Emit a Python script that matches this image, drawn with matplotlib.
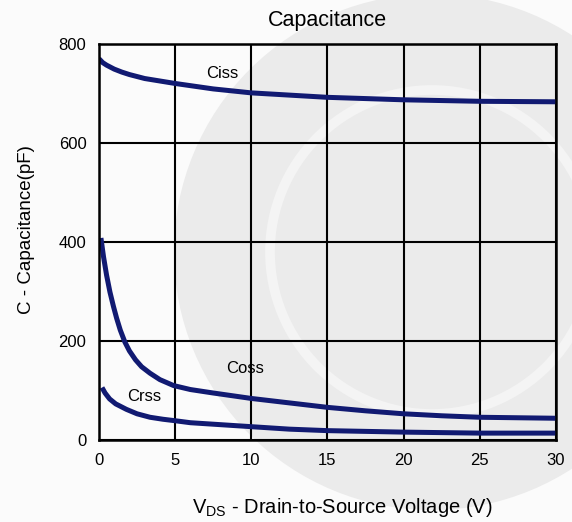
import matplotlib.pyplot as plt
from matplotlib.patches import Circle

# ── Data ──────────────────────────────────────────────────────────────────────
ciss_v = [0, 0.25, 0.5, 1, 1.5, 2, 3, 4, 5, 7.5, 10, 15, 20, 25, 30]
ciss_c = [770, 762, 757, 749, 743, 738, 730, 725, 720, 709, 701, 692, 687, 684, 683]

coss_v = [0.13, 0.3, 0.5, 0.72, 0.95, 1.16, 1.4, 1.7, 2.0, 2.4, 2.8, 3.35, 4.0,
          4.9, 6, 7.5, 10, 12.5, 15, 17.5, 20, 22.5, 25, 27.5, 30]
coss_c = [408, 370, 333, 299, 270, 246, 222, 198, 180, 162, 148, 135, 122,
          110, 102, 95, 84, 75, 66, 59, 53, 49, 46, 45, 44]

crss_v = [0.2, 0.4, 0.7, 1.1, 1.8, 2.5, 3.35, 4.2, 5, 6, 7.5, 10, 12.5, 15, 20, 25, 30]
crss_c = [106, 95, 83, 73, 62, 53, 46, 42, 39, 35, 32, 27, 22, 19, 16, 14, 14]

x_ticks = [0, 5, 10, 15, 20, 25, 30]
y_ticks = [0, 200, 400, 600, 800]

plt.rcParams["font.family"] = ["Liberation Sans", "DejaVu Sans"]
LINE = "#111a72"

fig = plt.figure(figsize=(5.72, 5.22), dpi=100, facecolor="#fbfbfb")

# faint round watermark behind the chart (pixel coordinates)
bg = fig.add_axes([0, 0, 1, 1], zorder=0)
bg.set_xlim(0, 572)
bg.set_ylim(522, 0)
bg.axis("off")
bg.add_patch(Circle((432, 252), 258, color="#ebebeb", lw=0))
bg.add_patch(Circle((432, 252), 162, fill=False, ec="#f4f4f4", lw=7))

ax = fig.add_axes([0.173, 0.157, 0.799, 0.759], zorder=1)
ax.set_facecolor("none")

ax.plot(ciss_v, ciss_c, color=LINE, lw=3.6, solid_capstyle="butt")
ax.plot(coss_v, coss_c, color=LINE, lw=3.6, solid_capstyle="butt")
ax.plot(crss_v, crss_c, color=LINE, lw=3.6, solid_capstyle="butt")

ax.text(8.1, 741, "Ciss", fontsize=12, ha="center", va="center")
ax.text(9.6, 144, "Coss", fontsize=12, ha="center", va="center")
ax.text(3.0, 88, "Crss", fontsize=12, ha="center", va="center")

ax.set_xlim(0, 30)
ax.set_ylim(0, 800)
ax.set_xticks(x_ticks)
ax.set_yticks(y_ticks)
ax.grid(True, color="black", lw=1.5)
ax.tick_params(length=0, labelsize=12, pad=9)
for s in ax.spines.values():
    s.set_linewidth(1.8)

ax.set_title("Capacitance", fontsize=15.5, pad=13)
ax.set_xlabel(r"V$_{\mathregular{DS}}$ - Drain-to-Source Voltage (V)", fontsize=14.5)
ax.xaxis.set_label_coords(0.533, -0.142)
ax.set_ylabel("C - Capacitance(pF)", fontsize=13.5)
ax.yaxis.set_label_coords(-0.14, 0.53)

plt.savefig("out.png", dpi=100, facecolor=fig.get_facecolor())
